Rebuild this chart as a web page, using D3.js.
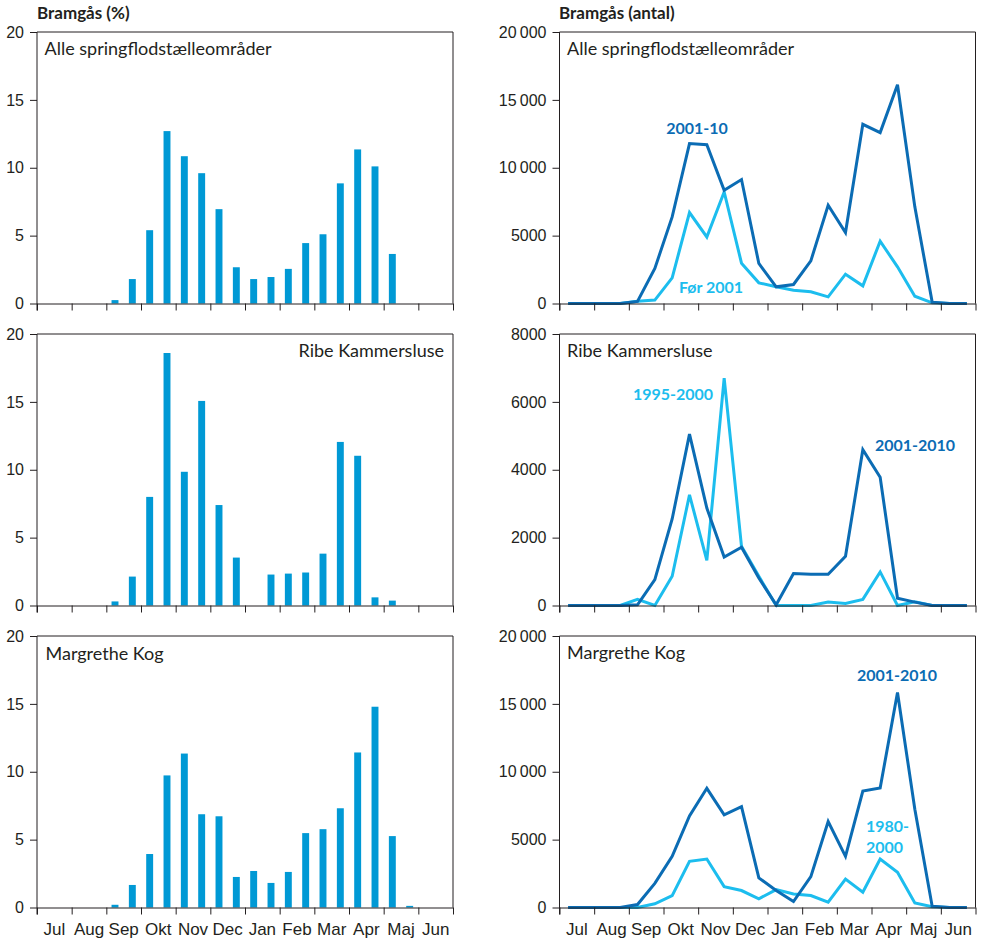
<!DOCTYPE html>
<html>
<head>
<meta charset="utf-8">
<script src="https://cdn.jsdelivr.net/npm/d3@7"></script>
<style>
  html, body { margin: 0; padding: 0; background: #fff; }
  svg { display: block; font-family: Lato, "Open Sans", sans-serif; }
  .tick text { font-size: 16px; fill: #231f20; }
  .months .tick text { font-size: 17px; }
  .domain, .tick line { stroke: #231f20; }
</style>
</head>
<body>
<svg id="chart" width="983" height="941"></svg>
<script>
// ---------- data ----------
var months = ["Jul", "Aug", "Sep", "Okt", "Nov", "Dec", "Jan", "Feb", "Mar", "Apr", "Maj", "Jun"];
// halve måneder (1. og 2. halvdel)
var periods = months.flatMap(function (m) { return [m + " 1", m + " 2"]; });

var pctTicks = [0, 5, 10, 15, 20];
var antalTicks20k = [0, 5000, 10000, 15000, 20000];
var antalTicks8k = [0, 2000, 4000, 6000, 8000];

// Bramgås (%) pr. halv måned
var pctAlle = [0, 0, 0, 0, 0.25, 1.8, 5.4, 12.7, 10.85, 9.6, 6.95, 2.67, 1.8, 1.95, 2.55, 4.45, 5.1, 8.85, 11.35, 10.1, 3.65, 0, 0, 0];
var pctRibe = [0, 0, 0, 0, 0.3, 2.13, 8.0, 18.6, 9.85, 15.07, 7.4, 3.53, 0, 2.28, 2.35, 2.43, 3.82, 12.05, 11.03, 0.6, 0.36, 0, 0, 0];
var pctMarg = [0, 0, 0, 0, 0.2, 1.66, 3.94, 9.73, 11.34, 6.87, 6.72, 2.25, 2.69, 1.81, 2.62, 5.48, 5.77, 7.31, 11.42, 14.79, 5.26, 0.12, 0, 0];

// Bramgås (antal) pr. halv måned
var alle2001 = [0, 0, 0, 0, 150, 2580, 6380, 11780, 11700, 8340, 9130, 2950, 1230, 1400, 3140, 7240, 5230, 13200, 12590, 16120, 7120, 100, 0, 0];
var alleFoer = [0, 0, 0, 0, 170, 250, 1890, 6700, 4900, 8220, 2970, 1520, 1230, 980, 860, 490, 2160, 1300, 4590, 2700, 540, 50, 0, 0];
var ribe2001 = [0, 0, 0, 0, 20, 765, 2550, 5050, 2870, 1430, 1715, 810, 20, 940, 920, 920, 1450, 4590, 3780, 215, 100, 0, 0, 0];
var ribe1995 = [0, 0, 0, 0, 180, 0, 860, 3260, 1330, 6700, 1745, 860, 0, 0, 0, 100, 60, 180, 990, 0, 110, 0, 0, 0];
var marg2001 = [0, 0, 0, 0, 220, 1780, 3770, 6750, 8780, 6820, 7430, 2180, 1250, 440, 2270, 6330, 3770, 8580, 8800, 15840, 7240, 100, 0, 0];
var marg1980 = [0, 0, 0, 0, 0, 270, 880, 3400, 3570, 1540, 1250, 640, 1320, 1000, 880, 390, 2100, 1120, 3570, 2590, 340, 50, 0, 0];

// ---------- styles ----------
var BAR = "#0099d5", DARK = "#0b6cb4", LIGHT = "#1cbdee", INK = "#231f20";
var colX = [37, 559.5], colW = 416;
var rowY = [32, 334, 636], rowH = 271.5;

var svg = d3.select("#chart");
var fmtAntal = function (d) { return d >= 10000 ? d3.format(",")(d).replace(",", "\u2009") : String(d); };

function frame(g, x0, y0, yScale, ticks, fmt, showMonths) {
  var monthPos = d3.scaleLinear().domain([0, 12]).range([x0, x0 + colW]);
  var monthBand = d3.scaleBand().domain(months).range([x0, x0 + colW]);
  // top + right border
  g.append("path").attr("d", "M" + x0 + "," + y0 + "H" + (x0 + colW) + "V" + (y0 + rowH))
    .attr("fill", "none").attr("stroke", INK).attr("stroke-width", 1);
  // x axis with boundary ticks
  g.append("g").attr("transform", "translate(0," + (y0 + rowH) + ")")
    .call(d3.axisBottom(monthPos).tickValues(d3.range(13)).tickSize(7).tickSizeOuter(0).tickFormat(""));
  if (showMonths) {
    g.append("g").attr("class", "months").attr("transform", "translate(0," + (y0 + rowH) + ")")
      .call(d3.axisBottom(monthBand).tickSize(0).tickPadding(15))
      .call(function (a) { a.select(".domain").remove(); });
  }
  // y axis
  var ya = g.append("g").attr("transform", "translate(" + x0 + ",0)")
    .call(d3.axisLeft(yScale).tickValues(ticks).tickSize(7).tickSizeOuter(0).tickFormat(fmt).tickPadding(6));
  ya.select(".domain").attr("d", "M0," + y0 + "V" + (y0 + rowH + 7));
}

function label(g, x, y, txt, opts) {
  opts = opts || {};
  g.append("text").attr("x", x).attr("y", y).text(txt)
    .attr("font-size", opts.size || 18).attr("font-weight", opts.bold ? 700 : 400)
    .attr("fill", opts.color || INK).attr("text-anchor", opts.anchor || "start");
}

function barPanel(row, values, name, nameOpts) {
  var x0 = colX[0], y0 = rowY[row];
  var g = svg.append("g");
  var x = d3.scaleBand().domain(periods).range([x0, x0 + colW]).paddingInner(0.6).paddingOuter(0.3);
  var y = d3.scaleLinear().domain([0, 20]).range([y0 + rowH, y0]);
  g.selectAll("rect").data(values).enter().append("rect")
    .attr("x", function (d, i) { return x(periods[i]); })
    .attr("width", x.bandwidth())
    .attr("y", function (d) { return y(d); })
    .attr("height", function (d) { return y(0) - y(d); })
    .attr("fill", BAR);
  frame(g, x0, y0, y, pctTicks, d3.format("d"), row === 2);
  label(g, nameOpts.x, nameOpts.y, name, { anchor: nameOpts.anchor });
}

function linePanel(row, series, yMax, ticks, name) {
  var x0 = colX[1], y0 = rowY[row];
  var g = svg.append("g");
  var x = d3.scalePoint().domain(periods).range([x0, x0 + colW]).padding(0.5);
  var y = d3.scaleLinear().domain([0, yMax]).range([y0 + rowH, y0]);
  var line = d3.line().x(function (d, i) { return x(periods[i]); }).y(function (d) { return y(d); });
  series.forEach(function (s) {
    g.append("path").datum(s.values).attr("d", line).attr("fill", "none")
      .attr("stroke", s.color).attr("stroke-width", 3).attr("stroke-linejoin", "miter");
  });
  frame(g, x0, y0, y, ticks, fmtAntal, row === 2);
  label(g, x0 + 7.5, y0 + 23, name);
  return g;
}

// ---------- left column ----------
label(svg, 37, 19, "Bramgås (%)", { bold: true, size: 17 });
barPanel(0, pctAlle, "Alle springflodstælleområder", { x: 44.5, y: 55 });
barPanel(1, pctRibe, "Ribe Kammersluse", { x: 444, y: 357, anchor: "end" });
barPanel(2, pctMarg, "Margrethe Kog", { x: 45.5, y: 660 });

// ---------- right column ----------
label(svg, 559, 19, "Bramgås (antal)", { bold: true, size: 17 });
var g1 = linePanel(0, [{ values: alleFoer, color: LIGHT }, { values: alle2001, color: DARK }], 20000, antalTicks20k, "Alle springflodstælleområder");
label(g1, 697, 134, "2001-10", { bold: true, color: DARK, anchor: "middle", size: 16 });
label(g1, 711, 293, "Før 2001", { bold: true, color: LIGHT, anchor: "middle", size: 16 });

var g2 = linePanel(1, [{ values: ribe1995, color: LIGHT }, { values: ribe2001, color: DARK }], 8000, antalTicks8k, "Ribe Kammersluse");
label(g2, 673, 400, "1995-2000", { bold: true, color: LIGHT, anchor: "middle", size: 16 });
label(g2, 915, 451, "2001-2010", { bold: true, color: DARK, anchor: "middle", size: 16 });

var g3 = linePanel(2, [{ values: marg1980, color: LIGHT }, { values: marg2001, color: DARK }], 20000, antalTicks20k, "Margrethe Kog");
label(g3, 897, 681, "2001-2010", { bold: true, color: DARK, anchor: "middle", size: 16 });
label(g3, 866, 832, "1980-", { bold: true, color: LIGHT, size: 16 });
label(g3, 866, 853, "2000", { bold: true, color: LIGHT, size: 16 });
</script>
</body>
</html>
